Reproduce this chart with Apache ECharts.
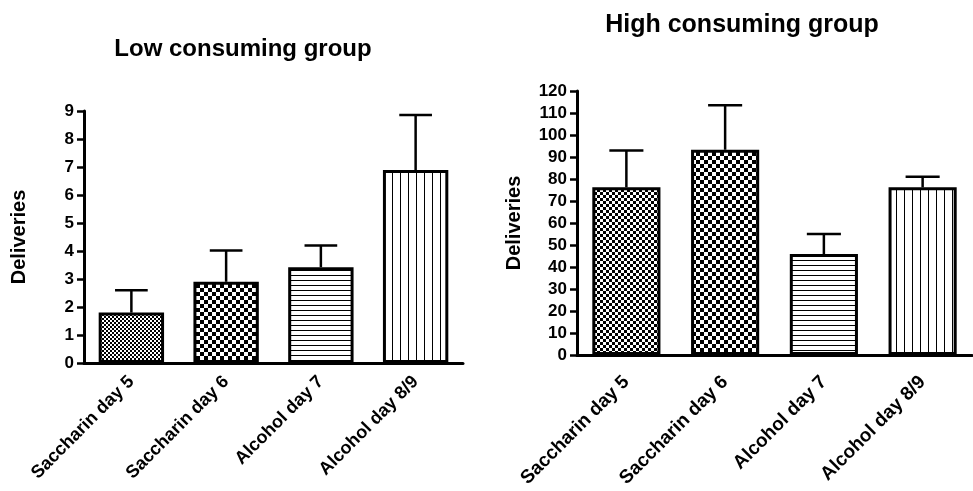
<!DOCTYPE html>
<html>
<head>
<meta charset="utf-8">
<script src="https://cdn.jsdelivr.net/npm/echarts@6/dist/echarts.min.js"></script>
<style>
  html, body { margin: 0; padding: 0; background: #fff; }
  #chart { width: 973px; height: 491px; }
</style>
</head>
<body>
<div id="chart"></div>
<script>
// Session labels shared by both panels
const categories = ['Saccharin day 5', 'Saccharin day 6', 'Alcohol day 7', 'Alcohol day 8/9'];

// Low consuming group: mean deliveries and SEM
const lowMeans = [1.8, 2.9, 3.42, 6.89];
const lowSem = [0.8, 1.12, 0.78, 1.97];

// High consuming group: mean deliveries and SEM
const highMeans = [76.2, 93.3, 45.9, 76.2];
const highSem = [16.8, 20.2, 9.1, 4.8];

const lowTitle = 'Low consuming group';
const highTitle = 'High consuming group';
const yName = 'Deliveries';

const FONT = '"Liberation Sans", Arial, sans-serif';

// Monochrome fill tiles, one per session
function tile(w, h, draw) {
  const c = document.createElement('canvas');
  c.width = w; c.height = h;
  const ctx = c.getContext('2d');
  ctx.fillStyle = '#fff';
  ctx.fillRect(0, 0, w, h);
  ctx.fillStyle = '#000';
  draw(ctx);
  return { image: c, repeat: 'repeat' };
}
function checker(s) {
  return tile(2 * s, 2 * s, ctx => {
    ctx.fillRect(0, 0, s, s);
    ctx.fillRect(s, s, s, s);
  });
}
const hLines = tile(4, 5, ctx => ctx.fillRect(0, 0, 4, 1));
const vLines = tile(8, 4, ctx => ctx.fillRect(0, 0, 1, 4));
const lowFills = [checker(2), checker(4), hLines, vLines];
const highFills = [checker(3), checker(4), hLines, vLines];

function barData(values, fills) {
  return values.map((v, i) => ({ value: v, itemStyle: { color: fills[i] } }));
}

// Upward error whisker with a cap half the bar's width
function errorRender(params, api) {
  const i = api.value(0);
  const mean = api.value(1);
  const sem = api.value(2);
  const base = api.coord([i, mean]);
  const top = api.coord([i, mean + sem]);
  const band = api.size([1, 0])[0];
  const half = band * 0.69 / 4;
  const style = { stroke: '#000', lineWidth: 2.5 };
  return {
    type: 'group',
    children: [
      { type: 'line', shape: { x1: base[0], y1: base[1], x2: top[0], y2: top[1] }, style },
      { type: 'line', shape: { x1: top[0] - half, y1: top[1], x2: top[0] + half, y2: top[1] }, style }
    ]
  };
}

function xAxis(gridIndex, margin, size) {
  return {
    type: 'category',
    gridIndex,
    data: categories,
    axisLine: { lineStyle: { color: '#000', width: 3 } },
    axisTick: { alignWithLabel: true, length: 7, lineStyle: { color: '#000', width: 3 } },
    axisLabel: { rotate: 45, margin, color: '#000', fontFamily: FONT, fontWeight: 'bold', fontSize: size }
  };
}
function yAxis(gridIndex, max, interval, gap) {
  return {
    type: 'value',
    gridIndex,
    min: 0, max, interval,
    name: yName,
    nameLocation: 'middle',
    nameGap: gap,
    nameRotate: 90,
    nameTextStyle: { color: '#000', fontFamily: FONT, fontWeight: 'bold', fontSize: 20 },
    splitLine: { show: false },
    axisLine: { show: true, lineStyle: { color: '#000', width: 3 } },
    axisTick: { show: true, length: 7, lineStyle: { color: '#000', width: 2.5 } },
    axisLabel: { margin: 10, color: '#000', fontFamily: FONT, fontWeight: 'bold', fontSize: 17 }
  };
}
function barSeries(idx, values, fills) {
  return {
    type: 'bar', xAxisIndex: idx, yAxisIndex: idx,
    data: barData(values, fills),
    barWidth: '69%',
    itemStyle: { borderColor: '#000', borderWidth: 3 },
    silent: true, z: 2
  };
}
function errSeries(idx, means, sems) {
  return {
    type: 'custom', xAxisIndex: idx, yAxisIndex: idx,
    data: means.map((m, i) => [i, m, sems[i]]),
    encode: { x: 0, y: 1 },
    renderItem: errorRender,
    silent: true, z: 1
  };
}

const chart = echarts.init(document.getElementById('chart'), null, { renderer: 'canvas' });
chart.setOption({
  animation: false,
  backgroundColor: '#fff',
  title: [
    { text: lowTitle, left: 238, top: 32, textAlign: 'center',
      textStyle: { color: '#000', fontFamily: FONT, fontWeight: 'bold', fontSize: 24 } },
    { text: highTitle, left: 737, top: 8, textAlign: 'center',
      textStyle: { color: '#000', fontFamily: FONT, fontWeight: 'bold', fontSize: 25 } }
  ],
  grid: [
    { left: 84, right: 510, top: 111, bottom: 128 },
    { left: 577, right: 1, top: 91, bottom: 136 }
  ],
  xAxis: [xAxis(0, 16, 18), xAxis(1, 24, 19)],
  yAxis: [yAxis(0, 9, 1, 55), yAxis(1, 120, 10, 53)],
  series: [
    errSeries(0, lowMeans, lowSem),
    barSeries(0, lowMeans, lowFills),
    errSeries(1, highMeans, highSem),
    barSeries(1, highMeans, highFills)
  ]
});
</script>
</body>
</html>
